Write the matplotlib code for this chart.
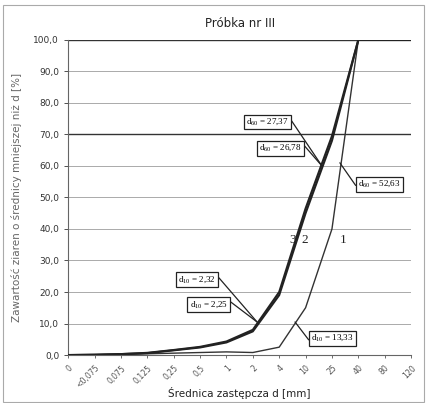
import matplotlib.pyplot as plt
from matplotlib.patches import Rectangle

# grain size categories (x axis is categorical)
sizes = ['0', '<0,075', '0,075', '0,125', '0,25', '0,5', '1', '2', '4',
         '10', '25', '40', '80', '120']

# cumulative content [%]
curve_1 = [0.0, 0.1, 0.2, 0.4, 0.6, 0.8, 1.0, 0.8, 2.5, 15.0, 40.0, 100.0, 100.0, 100.0]
curve_2 = [0.0, 0.1, 0.3, 0.6, 1.5, 2.4, 4.0, 7.5, 19.0, 45.0, 68.0, 100.0, 100.0, 100.0]
curve_3 = [0.0, 0.1, 0.3, 0.7, 1.6, 2.6, 4.3, 8.0, 20.0, 46.5, 69.5, 100.0, 100.0, 100.0]

# annotations: text, point on curve, box lower-left corner, where the leader leaves the box
notes = [
    ('d$_{60}$ = 27,37', (9.62, 60.0), (6.75, 72.3), (1, 1)),
    ('d$_{60}$ = 26,78', (9.62, 60.0), (7.25, 64.0), (1, 1)),
    ('d$_{60}$ = 52,63', (10.3, 61.0), (11.0, 52.6), (0, 0)),
    ('d$_{10}$ = 2,32', (7.16, 10.5), (4.18, 22.2), (1, 1)),
    ('d$_{10}$ = 2,25', (7.16, 10.5), (4.6, 14.3), (1, 1)),
    ('d$_{10}$ = 13,33', (8.6, 10.5), (9.22, 3.7), (0, 0)),
]

plt.rcParams['mathtext.fontset'] = 'custom'
plt.rcParams['mathtext.rm'] = 'Liberation Serif'
plt.rcParams['mathtext.it'] = 'Liberation Serif'

fig = plt.figure(figsize=(4.26, 4.03), dpi=100)
fig.patches.append(Rectangle((0.006, 0.003), 0.99, 0.985, transform=fig.transFigure,
                             fill=False, edgecolor='#aaaaaa', linewidth=0.8))
ax = fig.add_axes([0.16, 0.119, 0.805, 0.782])

x = list(range(len(sizes)))
ax.plot(x, curve_1, color='#333333', linewidth=1.0, zorder=3)
ax.plot(x, curve_2, color='#222222', linewidth=1.5, zorder=3)
ax.plot(x, curve_3, color='#222222', linewidth=1.5, zorder=3)

ax.set_xlim(0, 13)
ax.set_ylim(0, 100)
ax.set_yticks(range(0, 101, 10))
ax.set_yticklabels([('%.1f' % v).replace('.', ',') for v in range(0, 101, 10)])
ax.set_xticks(x)
ax.set_xticklabels(sizes, rotation=45, ha='right', rotation_mode='anchor')
ax.tick_params(axis='y', labelsize=6.5, colors='#333333', length=3, width=0.6)
ax.tick_params(axis='x', labelsize=5.6, colors='#555555', length=2, width=0.6, pad=4)

for v in range(10, 101, 10):
    col = '#333333' if v in (70, 100) else '#aaaaaa'
    lw = 1.0 if v in (70, 100) else 0.7
    ax.axhline(v, color=col, linewidth=lw, zorder=1)

for s in ['top', 'right']:
    ax.spines[s].set_visible(False)
ax.spines['left'].set_color('#666666')
ax.spines['bottom'].set_color('#666666')

ax.set_title('Próbka nr III', fontsize=8.5, color='#222222', pad=9)
ax.set_xlabel('Średnica zastępcza d [mm]', fontsize=7.5, color='#222222')
ax.xaxis.set_label_coords(0.5, -0.1)
ax.set_ylabel('Zawartość ziaren o średnicy mniejszej niż d [%]', fontsize=7.5,
              color='#666666', labelpad=8)

for text, pt, box, rel in notes:
    ax.annotate(text, xy=pt, xytext=box, textcoords='data', fontsize=6.5,
                family='Liberation Serif', ha='left', va='bottom', zorder=5,
                bbox=dict(boxstyle='square,pad=0.25', facecolor='white',
                          edgecolor='#222222', linewidth=0.9),
                arrowprops=dict(arrowstyle='-', color='#222222', linewidth=0.9,
                                relpos=rel, shrinkA=0, shrinkB=0))

ax.text(8.4, 36.5, '3', fontsize=9.5, family='Liberation Serif', color='#222222', va='center')
ax.text(8.85, 36.5, '2', fontsize=9.5, family='Liberation Serif', color='#222222', va='center')
ax.text(10.3, 36.5, '1', fontsize=9.5, family='Liberation Serif', color='#222222', va='center')

fig.savefig('out.png', dpi=100)
